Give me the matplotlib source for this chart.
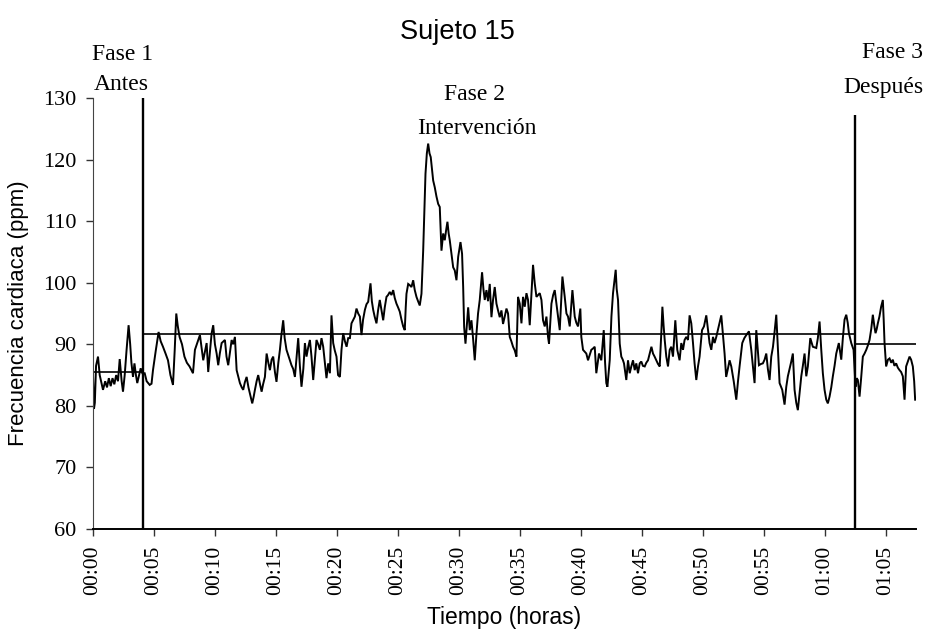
import matplotlib
matplotlib.use("Agg")
import matplotlib.pyplot as plt

# ---------------- data ----------------
t_min = [
    0.0, 0.08, 0.15, 0.25, 0.41, 0.55, 0.82, 1.0, 1.15, 1.3, 1.45, 1.6, 1.75, 1.9, 2.05, 2.19, 2.35, 2.46, 2.6, 2.75,
    2.92, 3.05, 3.15, 3.28, 3.4, 3.52, 3.63, 3.78, 3.91, 4.05, 4.24, 4.4, 4.65, 4.8, 4.92, 5.15, 5.38, 5.55, 5.74, 5.95,
    6.15, 6.35, 6.56, 6.7, 6.83, 6.95, 7.1, 7.3, 7.5, 7.7, 7.92, 8.2, 8.36, 8.77, 9.04, 9.32, 9.45, 9.6, 9.73, 9.86,
    10.0, 10.14, 10.27, 10.4, 10.55, 10.82, 10.95, 11.09, 11.25, 11.37, 11.5, 11.64, 11.78, 12.05, 12.2, 12.32, 12.45, 12.6, 12.75, 12.87,
    13.06, 13.18, 13.28, 13.42, 13.55, 13.7, 13.83, 13.95, 14.1, 14.24, 14.38, 14.51, 14.65, 14.78, 14.92, 15.05, 15.2, 15.33, 15.45, 15.6,
    15.72, 15.87, 16.05, 16.28, 16.42, 16.56, 16.7, 16.83, 16.97, 17.1, 17.25, 17.38, 17.51, 17.65, 17.79, 17.92, 18.06, 18.2, 18.33, 18.47,
    18.61, 18.74, 18.88, 19.02, 19.15, 19.29, 19.43, 19.56, 19.7, 19.83, 19.97, 20.1, 20.25, 20.38, 20.52, 20.66, 20.8, 20.93, 21.07, 21.2,
    21.35, 21.48, 21.61, 21.75, 21.89, 22.02, 22.15, 22.3, 22.43, 22.57, 22.76, 22.87, 22.98, 23.1, 23.25, 23.38, 23.52, 23.66, 23.8, 23.93,
    24.07, 24.2, 24.34, 24.48, 24.62, 24.75, 24.89, 25.02, 25.16, 25.3, 25.44, 25.57, 25.65, 25.71, 25.85, 25.98, 26.12, 26.26, 26.39, 26.53,
    26.66, 26.8, 26.94, 27.08, 27.27, 27.38, 27.49, 27.6, 27.7, 27.8, 27.9, 28.03, 28.17, 28.31, 28.44, 28.58, 28.72, 28.85, 28.96, 29.07,
    29.17, 29.26, 29.4, 29.54, 29.67, 29.81, 29.95, 30.14, 30.27, 30.36, 30.44, 30.55, 30.66, 30.77, 30.9, 31.04, 31.17, 31.31, 31.45, 31.58,
    31.72, 31.91, 32.02, 32.13, 32.27, 32.4, 32.54, 32.68, 32.81, 32.95, 33.09, 33.22, 33.36, 33.5, 33.63, 33.77, 33.91, 34.04, 34.18, 34.31,
    34.45, 34.59, 34.73, 34.86, 35.0, 35.14, 35.27, 35.41, 35.55, 35.68, 35.82, 35.96, 36.09, 36.23, 36.37, 36.5, 36.64, 36.78, 36.91, 37.05,
    37.19, 37.32, 37.4, 37.6, 37.74, 37.87, 38.01, 38.14, 38.28, 38.5, 38.69, 38.83, 38.96, 39.1, 39.32, 39.51, 39.64, 39.78, 39.97, 40.05,
    40.19, 40.32, 40.46, 40.6, 40.73, 40.87, 41.0, 41.15, 41.28, 41.5, 41.69, 41.89, 42.0, 42.1, 42.19, 42.38, 42.52, 42.65, 42.87, 42.95,
    43.06, 43.2, 43.33, 43.45, 43.55, 43.74, 43.88, 44.02, 44.15, 44.29, 44.43, 44.56, 44.7, 44.84, 44.97, 45.1, 45.25, 45.38, 45.52, 45.66,
    45.8, 45.93, 46.06, 46.2, 46.34, 46.48, 46.61, 46.7, 46.8, 46.89, 47.02, 47.16, 47.3, 47.43, 47.57, 47.76, 47.92, 48.11, 48.25, 48.39,
    48.52, 48.66, 48.8, 48.93, 49.07, 49.21, 49.34, 49.48, 49.62, 49.75, 49.95, 50.11, 50.3, 50.44, 50.57, 50.71, 50.85, 50.98, 51.12, 51.25,
    51.4, 51.53, 51.66, 51.8, 51.93, 52.07, 52.21, 52.35, 52.55, 52.76, 52.9, 53.03, 53.25, 53.42, 53.58, 53.8, 53.99, 54.12, 54.26, 54.4,
    54.62, 54.78, 54.94, 55.08, 55.22, 55.35, 55.49, 55.63, 55.77, 55.9, 56.04, 56.18, 56.31, 56.53, 56.72, 56.86, 56.99, 57.13, 57.27, 57.4,
    57.54, 57.68, 57.81, 57.95, 58.09, 58.22, 58.36, 58.5, 58.63, 58.83, 59.04, 59.18, 59.32, 59.45, 59.59, 59.73, 59.86, 60.0, 60.14, 60.27,
    60.41, 60.55, 60.68, 60.82, 60.96, 61.17, 61.37, 61.5, 61.64, 61.78, 61.9, 62.0, 62.19, 62.38, 62.46, 62.54, 62.63, 62.73, 62.87, 63.0,
    63.14, 63.28, 63.42, 63.55, 63.69, 63.83, 63.96, 64.08, 64.18, 64.28, 64.37, 64.5, 64.64, 64.78, 64.85, 64.92, 65.05, 65.2, 65.33, 65.47,
    65.6, 65.73, 65.87, 66.01, 66.15, 66.28, 66.42, 66.56, 66.69, 66.83, 66.97, 67.1, 67.24, 67.35, 67.43,
]
hr_ppm = [
    85.0, 79.5, 80.5, 86.5, 88.0, 85.0, 82.6, 84.0, 83.0, 84.5, 83.2, 84.5, 83.5, 85.0, 84.0, 87.6, 84.0, 82.3, 85.0, 89.0,
    93.1, 90.0, 87.0, 84.7, 86.9, 85.0, 83.7, 85.0, 86.1, 85.3, 85.3, 84.0, 83.4, 83.6, 85.8, 89.0, 92.0, 90.5, 89.6, 88.5,
    87.4, 85.0, 83.4, 89.0, 95.0, 93.0, 91.2, 90.0, 88.0, 87.0, 86.4, 85.3, 89.1, 91.5, 87.4, 90.2, 85.5, 89.0, 91.8, 93.1,
    90.0, 88.5, 86.6, 88.5, 90.2, 90.7, 88.0, 86.6, 89.0, 90.7, 90.0, 91.2, 85.8, 83.7, 83.0, 82.6, 83.8, 84.7, 83.0, 82.0,
    80.4, 81.5, 82.6, 84.0, 85.0, 83.5, 82.3, 83.5, 84.7, 88.5, 87.0, 85.8, 87.5, 88.0, 85.5, 83.9, 87.0, 89.1, 91.5, 93.9,
    91.0, 89.1, 88.0, 86.6, 86.0, 84.7, 88.0, 91.0, 86.4, 83.1, 86.0, 90.2, 88.0, 89.5, 90.7, 88.0, 84.2, 87.5, 90.7, 90.0,
    89.1, 91.0, 89.6, 87.0, 84.5, 86.9, 85.3, 94.7, 90.2, 89.0, 88.0, 85.0, 84.7, 89.1, 91.8, 90.5, 89.6, 91.0, 91.0, 93.4,
    94.0, 94.5, 95.8, 95.0, 94.5, 91.5, 94.0, 95.6, 96.5, 96.9, 99.9, 97.0, 95.6, 94.5, 93.4, 95.5, 97.2, 95.5, 93.9, 96.0,
    97.7, 98.0, 98.5, 98.0, 98.8, 97.5, 96.6, 96.0, 95.3, 94.0, 92.9, 92.3, 96.0, 98.2, 99.8, 99.6, 99.3, 100.4, 98.8, 97.7,
    97.0, 96.3, 98.2, 105.2, 117.7, 121.0, 122.6, 121.0, 120.4, 118.5, 116.6, 115.5, 114.0, 112.8, 112.3, 105.2, 108.0, 106.9, 108.5, 109.9,
    108.0, 106.9, 104.7, 102.5, 102.0, 100.4, 104.2, 106.6, 104.7, 99.3, 92.8, 90.1, 93.0, 96.0, 92.3, 93.9, 91.0, 87.4, 91.7, 95.0,
    97.2, 101.7, 99.0, 97.2, 98.8, 97.0, 99.8, 94.4, 97.2, 99.3, 96.6, 95.5, 94.4, 95.5, 93.3, 94.5, 95.8, 95.0, 91.2, 90.5,
    89.6, 89.0, 88.0, 97.7, 96.6, 93.4, 97.7, 96.1, 98.3, 97.2, 93.1, 98.3, 102.9, 99.9, 97.7, 98.0, 98.3, 97.2, 93.9, 92.9,
    94.5, 91.2, 90.1, 96.6, 98.0, 98.8, 96.6, 94.5, 92.3, 101.0, 97.7, 95.0, 94.5, 92.9, 98.8, 94.5, 93.5, 92.9, 95.8, 91.2,
    89.1, 88.8, 88.5, 87.4, 88.2, 89.1, 89.3, 89.6, 85.3, 88.5, 87.4, 92.3, 87.0, 83.7, 83.1, 87.4, 94.5, 98.3, 102.1, 99.0,
    97.2, 90.1, 88.0, 87.5, 86.9, 84.2, 87.4, 85.3, 86.4, 87.4, 85.8, 86.9, 85.3, 86.9, 87.2, 86.5, 86.4, 87.0, 87.4, 88.5,
    89.6, 88.5, 88.0, 87.4, 86.8, 86.4, 91.8, 96.1, 93.0, 90.7, 88.0, 86.4, 89.1, 89.6, 88.0, 93.9, 89.1, 87.4, 90.2, 89.1,
    90.7, 91.2, 90.7, 94.7, 93.4, 90.2, 86.9, 84.2, 86.4, 88.0, 92.3, 92.9, 94.7, 92.3, 90.2, 89.1, 91.2, 90.2, 91.2, 92.3,
    93.5, 94.7, 91.8, 88.5, 84.7, 86.0, 87.4, 86.4, 84.0, 81.0, 84.0, 86.4, 90.2, 91.0, 91.5, 92.1, 89.1, 86.5, 83.7, 92.3,
    86.6, 86.8, 86.9, 87.5, 88.5, 86.0, 84.2, 88.0, 89.6, 92.0, 94.8, 89.1, 83.7, 82.6, 80.2, 83.1, 84.8, 86.0, 87.2, 88.5,
    82.6, 80.5, 79.3, 82.0, 84.8, 86.5, 88.5, 84.8, 86.4, 91.0, 89.6, 89.5, 89.4, 91.0, 93.7, 89.1, 85.3, 82.6, 81.0, 80.4,
    81.5, 83.0, 84.8, 86.5, 88.5, 90.2, 87.5, 91.0, 94.0, 94.8, 93.5, 91.8, 90.2, 89.1, 86.0, 83.1, 84.5, 84.2, 81.5, 84.5,
    88.0, 88.5, 89.1, 89.8, 90.7, 92.5, 94.8, 93.0, 91.8, 92.5, 93.4, 94.5, 96.1, 97.2, 94.0, 90.2, 86.4, 87.5, 87.7, 87.0,
    87.5, 86.5, 86.9, 86.2, 85.8, 85.5, 84.8, 81.0, 86.4, 87.2, 88.0, 87.5, 86.4, 84.0, 81.0,
]

phase_bounds = [0.0, 4.1, 62.5, 67.5]      # minutes
phase_means = [85.5, 91.6, 90.0]           # ppm
phase_line_tops = [130.0, 127.2]           # top of the two vertical separators

x_ticks = list(range(0, 70, 5))
x_tick_labels = ["00:00", "00:05", "00:10", "00:15", "00:20", "00:25", "00:30",
                 "00:35", "00:40", "00:45", "00:50", "00:55", "01:00", "01:05"]
y_ticks = [60, 70, 80, 90, 100, 110, 120, 130]

# ---------------- figure ----------------
W, H = 926, 631
fig = plt.figure(figsize=(W / 100, H / 100), dpi=100)
ax = fig.add_axes([93 / W, 1 - 529 / H, (916 - 93) / W, (529 - 98) / H])

ax.plot(t_min, hr_ppm, color="black", lw=1.4, solid_joinstyle="miter")

for i in range(3):
    ax.hlines(phase_means[i], phase_bounds[i], phase_bounds[i + 1], color="black", lw=1.2)
ax.vlines(phase_bounds[1], 60, phase_line_tops[0], color="black", lw=1.7)
ax.vlines(phase_bounds[2], 60, phase_line_tops[1], color="black", lw=1.7)

ax.set_xlim(0, 67.5)
ax.set_ylim(60, 130)
for s in ["top", "right"]:
    ax.spines[s].set_visible(False)
ax.spines["left"].set_linewidth(0.8)
ax.spines["left"].set_color("#444444")
ax.spines["bottom"].set_linewidth(1.4)

serif = "Liberation Serif"
sans = "Liberation Sans"
ax.set_xticks(x_ticks)
ax.set_xticklabels(x_tick_labels, rotation=90, fontfamily=serif, fontsize=15.5)
ax.set_yticks(y_ticks)
ax.set_yticklabels([str(v) for v in y_ticks], fontfamily=serif, fontsize=16)
ax.tick_params(axis="both", direction="out", length=5, width=1.0, color="#333333", pad=7)

ax.set_xlabel("Tiempo (horas)", fontfamily=sans, fontsize=16.5, labelpad=8)
ax.set_ylabel("Frecuencia cardiaca (ppm)", fontfamily=sans, fontsize=16, labelpad=10)

fig.text(457 / W, 1 - 32 / H, "Sujeto 15", fontfamily=sans, fontsize=19.5, ha="center", va="center")

# phase annotations
ann = dict(fontfamily=serif, fontsize=17, ha="center", va="center")
fig.text(123 / W, 1 - 54 / H, "Fase 1", **ann)
fig.text(121 / W, 1 - 85 / H, "Antes", **ann)
fig.text(474 / W, 1 - 95 / H, "Fase 2", **ann)
fig.text(477 / W, 1 - 128 / H, "Intervención", **ann)
fig.text(893 / W, 1 - 53 / H, "Fase 3", **ann)
fig.text(883 / W, 1 - 87 / H, "Después", **ann)

fig.savefig("out.png", dpi=100)
